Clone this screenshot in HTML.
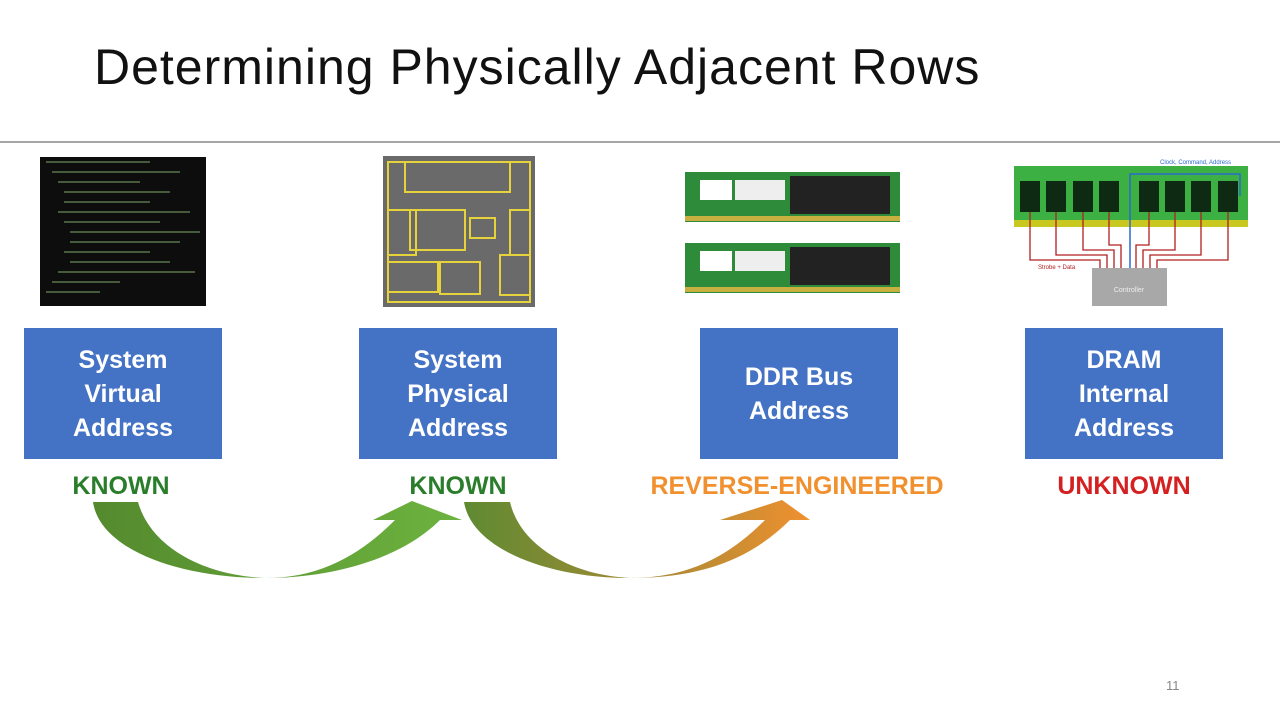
<!DOCTYPE html>
<html><head><style>
body{margin:0;width:1280px;height:720px;background:#fff;position:relative;overflow:hidden;font-family:"Liberation Sans",sans-serif}
.t{position:absolute;left:94px;top:38px;font-size:50px;color:#111;letter-spacing:1px;font-weight:300}
.hr{position:absolute;left:0;top:141px;width:1280px;height:2px;background:#a6a6a6}
.box{position:absolute;top:328px;width:198px;height:131px;background:#4472c4;color:#fff;font-weight:bold;font-size:25px;line-height:34px;display:flex;align-items:center;justify-content:center;text-align:center}
.lb{position:absolute;top:472px;font-weight:bold;font-size:25px;text-align:center;width:400px}
.pg{position:absolute;left:1166px;top:678px;font-size:13px;color:#888}
</style></head><body>
<div class="t">Determining Physically Adjacent Rows</div>
<div class="hr"></div>
<svg width="1280" height="720" style="position:absolute;left:0;top:0">
<defs>
<linearGradient id="g1" x1="0" x2="1"><stop offset="0" stop-color="#548a2e"/><stop offset="1" stop-color="#6db33f"/></linearGradient>
<linearGradient id="g2" x1="0" x2="1"><stop offset="0" stop-color="#5e8a32"/><stop offset="0.5" stop-color="#a08a35"/><stop offset="1" stop-color="#f0902f"/></linearGradient>
</defs>
<rect x="40" y="157" width="166" height="149" fill="#0d0d0d"/>
<g stroke="#6a8a5a" stroke-width="1.2">
<line x1="46" y1="162" x2="150" y2="162"/><line x1="52" y1="172" x2="180" y2="172"/><line x1="58" y1="182" x2="140" y2="182"/><line x1="64" y1="192" x2="170" y2="192"/><line x1="64" y1="202" x2="150" y2="202"/><line x1="58" y1="212" x2="190" y2="212"/><line x1="64" y1="222" x2="160" y2="222"/><line x1="70" y1="232" x2="200" y2="232"/><line x1="70" y1="242" x2="180" y2="242"/><line x1="64" y1="252" x2="150" y2="252"/><line x1="70" y1="262" x2="170" y2="262"/><line x1="58" y1="272" x2="195" y2="272"/><line x1="52" y1="282" x2="120" y2="282"/><line x1="46" y1="292" x2="100" y2="292"/>
</g>
<rect x="383" y="156" width="152" height="151" fill="#6a6a6a"/>
<g fill="none" stroke="#e6d23a" stroke-width="2">
<rect x="388" y="162" width="142" height="140"/><rect x="405" y="162" width="105" height="30"/><rect x="388" y="210" width="28" height="45"/><rect x="410" y="210" width="55" height="40"/><rect x="470" y="218" width="25" height="20"/><rect x="510" y="210" width="20" height="45"/><rect x="388" y="262" width="50" height="30"/><rect x="440" y="262" width="40" height="32"/><rect x="500" y="255" width="30" height="40"/>
</g>
<g>
<rect x="685" y="172" width="215" height="50" fill="#2e8b3a"/><rect x="685" y="243" width="215" height="50" fill="#2e8b3a"/>
<rect x="700" y="180" width="32" height="20" fill="#fff"/><rect x="735" y="180" width="50" height="20" fill="#eee"/><rect x="790" y="176" width="100" height="38" fill="#222"/>
<rect x="700" y="251" width="32" height="20" fill="#fff"/><rect x="735" y="251" width="50" height="20" fill="#eee"/><rect x="790" y="247" width="100" height="38" fill="#222"/>
<rect x="685" y="216" width="215" height="5" fill="#c8b040"/><rect x="685" y="287" width="215" height="5" fill="#c8b040"/>
</g>
<rect x="1014" y="166" width="234" height="61" fill="#3cb043"/>
<rect x="1014" y="220" width="234" height="7" fill="#c8c820"/>
<g fill="#0f2a12"><rect x="1020" y="181" width="20" height="31"/><rect x="1046" y="181" width="20" height="31"/><rect x="1073" y="181" width="20" height="31"/><rect x="1099" y="181" width="20" height="31"/><rect x="1139" y="181" width="20" height="31"/><rect x="1165" y="181" width="20" height="31"/><rect x="1191" y="181" width="20" height="31"/><rect x="1218" y="181" width="20" height="31"/></g>
<polyline points="1130,268 1130,174 1240,174 1240,196" fill="none" stroke="#2a6ad0" stroke-width="1.5"/>
<g fill="none" stroke="#b02020" stroke-width="1.3"><path d="M1030 212V260H1100V268M1056 212V255H1107V268M1083 212V250H1114V268M1109 212V245H1121V268M1149 212V245H1136V268M1175 212V250H1143V268M1201 212V255H1150V268M1228 212V260H1157V268"/></g>
<rect x="1092" y="268" width="75" height="38" fill="#a8a8a8"/>
<text x="1129" y="292" font-size="7" fill="#eee" text-anchor="middle">Controller</text>
<text x="1160" y="164" font-size="6" fill="#2a6ad0">Clock, Command, Address</text>
<text x="1038" y="269" font-size="6" fill="#b02020">Strobe + Data</text>
<path d="M93,502 C100,550 180,578 265,578 C320,578 360,555 395,520 L373,520 L412,501 L462,520 L440,520 C400,560 330,578 265,578 C200,575 150,545 138,502 Z" fill="url(#g1)"/>
<path d="M464,502 C472,550 550,578 630,578 C690,578 730,555 765,520 L720,520 L782,500 L810,520 L790,520 C750,560 700,578 630,578 C570,575 520,545 510,502 Z" fill="url(#g2)"/>
</svg>
<div class="box" style="left:24px">System<br>Virtual<br>Address</div>
<div class="box" style="left:359px">System<br>Physical<br>Address</div>
<div class="box" style="left:700px">DDR Bus<br>Address</div>
<div class="box" style="left:1025px">DRAM<br>Internal<br>Address</div>
<div class="lb" style="left:-79px;color:#2a7d2a">KNOWN</div>
<div class="lb" style="left:258px;color:#2a7d2a">KNOWN</div>
<div class="lb" style="left:597px;color:#f0902f">REVERSE-ENGINEERED</div>
<div class="lb" style="left:924px;color:#d42020">UNKNOWN</div>
<div class="pg">11</div>
</body></html>
